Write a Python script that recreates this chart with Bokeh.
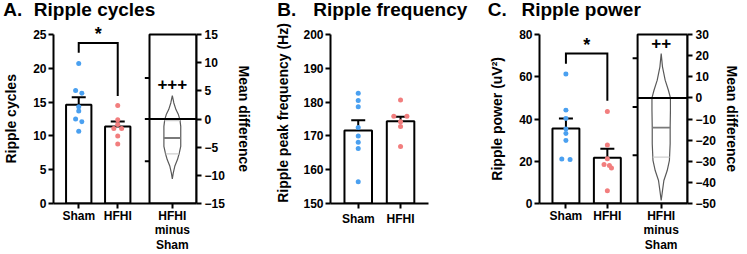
import numpy as np
from bokeh.plotting import figure
from bokeh.layouts import row, column
from bokeh.core.properties import value
from bokeh.models import (Range1d, LinearAxis, FixedTicker, Label, Whisker, TeeHead,
                          ColumnDataSource, BoxAnnotation)
from bokeh.embed import file_html
from bokeh.resources import INLINE

FONT = "Liberation Sans"
BLUE = "#4aa0f0"
PINK = "#f27e7e"
VIOLIN_LINE = "#5a5a5a"
MEDIAN_LINE = "#7a7a7a"
QUART_LINE = "#cfcfcf"
PAD = "\u00a0" * 3   # centres axis labels on the drawn part of the axis

# ---------------- data ----------------
groups = ["Sham", "HFHI"]
diff_label = "HFHI\nminus\nSham"
titles = [("A.", "Ripple cycles"), ("B.", "Ripple frequency"), ("C.", "Ripple power")]

# A. Ripple cycles
a_sham = [20.7, 16.7, 16.3, 14.3, 13.7, 12.5, 12.1, 10.7]
a_sham_jit = [0, -0.8, 0.8, 0, 0, -0.8, 0.8, 0]
a_hfhi = [14.5, 12.4, 11.7, 11.1, 11.1, 10.0, 8.8]
a_hfhi_jit = [0, 0, 0, -1.0, 1.0, 0, 0]
a_mean = [14.6, 11.4]
a_sem = [1.1, 0.72]
a_bracket = [22.3, 23.75, 23.75, 15.9]
a_yticks = [0, 5, 10, 15, 20, 25]
a_dticks = [-15, -10, -5, 0, 5, 10, 15]
a_box_ticks = [7.3, 0, -7.5]
a_vio_y = [4.15, 2.85, 1.67, 0.78, -0.11, -1.3, -3.07, -4.85, -6.03, -7.2, -8.4, -9.6, -10.65]
a_vio_w = [0, 0.18, 0.43, 0.72, 0.9, 1.0, 1.0, 1.0, 0.83, 0.61, 0.29, 0.11, 0]
a_median = -3.37
a_quart = [-0.3, -6.2]
a_sig = "+++"
a_sig_y = 6.3

# B. Ripple frequency
b_sham = [182.6, 180.5, 178.6, 172.5, 170.0, 168.1, 166.3, 156.4]
b_sham_jit = [0, 0, 0, 0, 0, 0, 0, 0]
b_hfhi = [180.6, 175.8, 175.8, 174.2, 172.8, 166.9]
b_hfhi_jit = [0, -1.6, 1.5, 0, 0, 0]
b_mean = [171.6, 174.3]
b_sem = [3.0, 1.4]
b_yticks = [150, 160, 170, 180, 190, 200]

# C. Ripple power
c_sham = [61.3, 44.2, 40.2, 35.3, 33.1, 29.8, 21.1, 20.8]
c_sham_jit = [0, 0, 0, 0, 0, 0, -1.0, 1.0]
c_hfhi = [43.6, 27.7, 21.2, 18.5, 18.0, 16.8, 6.0]
c_hfhi_jit = [0, 0, 0, -0.8, 0.5, 1.0, 0]
c_mean = [35.5, 21.6]
c_sem = [4.7, 4.35]
c_bracket = [66.2, 71.0, 71.0, 48.6]
c_yticks = [0, 20, 40, 60, 80]
c_dticks = [-50, -40, -30, -20, -10, 0, 10, 20, 30]
c_box_ticks = [18.7, -4.3, -27.2]
c_vio_y = [21.0, 14.7, 8.4, 3.6, 0, -5.9, -13.8, -21.7, -29.6, -34.4, -39.1, -43.9, -48.6]
c_vio_w = [0, 0.14, 0.43, 0.78, 1.0, 1.0, 0.97, 0.97, 0.89, 0.65, 0.29, 0.14, 0]
c_median = -14.1
c_quart = [0.0, -28.0]
c_sig = "++"
c_sig_y = 26.1

# ---------------- layout constants ----------------
SHAM_X, HFHI_X = 10, 20
BAR_W = 6.5
PX_PER_X = 4.17          # pixels per x unit
TICK_PX = 5
TITLE_H = 22
MAIN_H = 254 - TITLE_H
BOTTOM = 51
PX_FRAME = MAIN_H - BOTTOM   # frame height in px
PX_AXIS = 169                # length of the drawn y axis in px


def ext(lo, hi):
    """extend a range upward so that [lo, hi] covers PX_AXIS of a PX_FRAME frame"""
    return (lo, lo + (hi - lo) * PX_FRAME / PX_AXIS)


def style_axis(ax, label_standoff=8, major_standoff=2):
    ax.axis_line_width = 2
    ax.axis_line_color = "black"
    ax.major_tick_line_width = 2
    ax.major_tick_line_color = "black"
    ax.major_tick_out = TICK_PX
    ax.major_tick_in = 0
    ax.minor_tick_line_color = None
    ax.major_label_text_font = FONT
    ax.major_label_text_font_style = "bold"
    ax.major_label_text_font_size = "12px"
    ax.major_label_text_color = "black"
    ax.major_label_text_line_height = 1.04
    ax.major_label_standoff = major_standoff
    ax.axis_label_text_font = FONT
    ax.axis_label_text_font_style = "bold"
    ax.axis_label_text_font_size = "14px"
    ax.axis_label_text_color = "black"
    ax.axis_label_standoff = label_standoff


def base_fig(width, bl, br, xr, yr, yticks, ylabel, lab_standoff, x_standoff):
    p = figure(width=width, height=MAIN_H, x_range=Range1d(*xr), y_range=Range1d(*ext(*yr)),
               output_backend="svg", toolbar_location=None,
               min_border_left=bl, min_border_right=br,
               min_border_top=0, min_border_bottom=BOTTOM)
    p.outline_line_color = None
    p.grid.visible = False
    p.background_fill_color = "white"
    p.border_fill_color = "white"
    yax = p.left[0]
    yax.ticker = FixedTicker(ticks=yticks)
    yax.bounds = yr
    yax.axis_label = ylabel
    style_axis(yax, label_standoff=lab_standoff, major_standoff=2)
    xax = p.below[0]
    style_axis(xax, label_standoff=0, major_standoff=x_standoff)
    return p


def bars_points(p, base, mean, sem, sham, sham_jit, hfhi, hfhi_jit):
    xs = [SHAM_X, HFHI_X]
    p.vbar(x=xs, top=mean, bottom=base, width=BAR_W, fill_color="white",
           line_color="black", line_width=2)
    src = ColumnDataSource(dict(x=xs, lo=[m - s for m, s in zip(mean, sem)],
                                hi=[m + s for m, s in zip(mean, sem)]))
    w = Whisker(source=src, base="x", lower="lo", upper="hi", line_width=2, line_color="black",
                lower_head=TeeHead(size=14, line_width=2, line_color="black"),
                upper_head=TeeHead(size=14, line_width=2, line_color="black"))
    p.add_layout(w)
    p.scatter([SHAM_X + j for j in sham_jit], sham, size=5, fill_color=BLUE, line_color=None)
    p.scatter([HFHI_X + j for j in hfhi_jit], hfhi, size=5, fill_color=PINK, line_color=None)


def bracket(p, ys):
    p.line([SHAM_X, SHAM_X, HFHI_X, HFHI_X], ys, line_width=2, line_color="black",
           line_join="miter")
    p.add_layout(Label(x=(SHAM_X + HFHI_X) / 2, y=ys[1], y_offset=9, text="*",
                       text_font=FONT, text_font_style="bold", text_font_size="18px",
                       text_align="center", text_baseline="alphabetic", text_color="black"))


def estimation(p, xr, dr, est_x, box_left, dticks, box_ticks, vio_y, vio_w, hw_max,
               median, quart, sig, sig_y, lab_standoff):
    p.extra_y_ranges = {"diff": Range1d(*ext(*dr))}
    rax = LinearAxis(y_range_name="diff", ticker=FixedTicker(ticks=dticks),
                     axis_label=PAD + "Mean difference", bounds=dr)
    style_axis(rax, label_standoff=lab_standoff, major_standoff=3)
    p.add_layout(rax, "right")
    p.add_layout(BoxAnnotation(left=box_left, right=xr[1], bottom=dr[0], top=dr[1],
                               y_range_name="diff", fill_alpha=0, fill_color=None,
                               line_color="black", line_alpha=1.0, line_width=2))
    tick_len = TICK_PX / PX_PER_X
    p.segment(x0=[box_left - tick_len] * len(box_ticks), x1=[box_left] * len(box_ticks),
              y0=box_ticks, y1=box_ticks, y_range_name="diff", line_color="black",
              line_width=2)
    vy = np.array(vio_y)
    vw = np.array(vio_w) * hw_max
    px = np.concatenate([est_x + vw, (est_x - vw)[::-1]])
    py = np.concatenate([vy, vy[::-1]])
    p.patch(px, py, y_range_name="diff", fill_color="white", line_color=VIOLIN_LINE,
            line_width=1.2)
    for yv, col, lw in ((quart[0], QUART_LINE, 1.2), (quart[1], QUART_LINE, 1.2),
                        (median, MEDIAN_LINE, 1.8)):
        hw = float(np.interp(yv, vy[::-1], vw[::-1]))
        p.segment(x0=[est_x - hw], x1=[est_x + hw], y0=[yv], y1=[yv], y_range_name="diff",
                  line_color=col, line_width=lw)
    p.segment(x0=[box_left], x1=[xr[1]], y0=[0], y1=[0], y_range_name="diff",
              line_color="black", line_width=2)
    p.add_layout(Label(x=est_x, y=sig_y, y_range_name="diff", text=sig, text_font=FONT,
                       text_font_style="bold", text_font_size="17px", text_align="center",
                       text_baseline="middle", text_color="black"))


# ---------------- Title strip ----------------
pT = figure(width=747, height=TITLE_H, x_range=Range1d(0, 747), y_range=Range1d(TITLE_H, 0),
            output_backend="svg", toolbar_location=None, x_axis_type=None, y_axis_type=None,
            min_border=0)
pT.outline_line_color = None
pT.grid.visible = False
title_x = [2.7, 276.7, 487.3]
text_x = [33.3, 312.7, 521.0]
pT.text(x=title_x + text_x, y=[9.0] * 6,
        text=[t[0] for t in titles] + [t[1] for t in titles],
        text_font=value(FONT), text_font_style="bold", text_font_size=value("19px"),
        text_baseline="alphabetic", text_align="left", text_color="black")

# ---------------- Panel A ----------------
a_xr = (3.53, 40.2)
A_EST = 34
pA = base_fig(254, 49, 52, a_xr, (0, 25), a_yticks, "Ripple cycles" + PAD, 11, 0)
pA.below[0].ticker = FixedTicker(ticks=[SHAM_X, HFHI_X, A_EST])
pA.below[0].major_label_overrides = {SHAM_X: groups[0], HFHI_X: groups[1], A_EST: diff_label}
estimation(pA, a_xr, (-15, 15), A_EST, 28.15, a_dticks, a_box_ticks, a_vio_y, a_vio_w, 2.16,
           a_median, a_quart, a_sig, a_sig_y, 8)
bars_points(pA, 0, a_mean, a_sem, a_sham, a_sham_jit, a_hfhi, a_hfhi_jit)
bracket(pA, a_bracket)

# ---------------- Panel B ----------------
b_xr = (3.45, 26.6)
pB = base_fig(232, 76, 58, b_xr, (150, 200), b_yticks, "Ripple peak frequency (Hz)", 9, 3)
pB.below[0].ticker = FixedTicker(ticks=[SHAM_X, HFHI_X])
pB.below[0].major_label_overrides = {SHAM_X: groups[0], HFHI_X: groups[1]}
bars_points(pB, 150, b_mean, b_sem, b_sham, b_sham_jit, b_hfhi, b_hfhi_jit)

# ---------------- Panel C ----------------
c_xr = (3.62, 39.35)
C_EST = 33
pC = base_fig(261, 52, 60, c_xr, (0, 80), c_yticks, "Ripple power (uV\u00b2)" + PAD, 11, 0)
pC.below[0].ticker = FixedTicker(ticks=[SHAM_X, HFHI_X, C_EST])
pC.below[0].major_label_overrides = {SHAM_X: groups[0], HFHI_X: groups[1], C_EST: diff_label}
estimation(pC, c_xr, (-50, 30), C_EST, 27.3, c_dticks, c_box_ticks, c_vio_y, c_vio_w, 2.23,
           c_median, c_quart, c_sig, c_sig_y, 5)
bars_points(pC, 0, c_mean, c_sem, c_sham, c_sham_jit, c_hfhi, c_hfhi_jit)
bracket(pC, c_bracket)

layout = column(pT, row(pA, pB, pC))
open("out.html", "w").write(file_html(layout, INLINE))
